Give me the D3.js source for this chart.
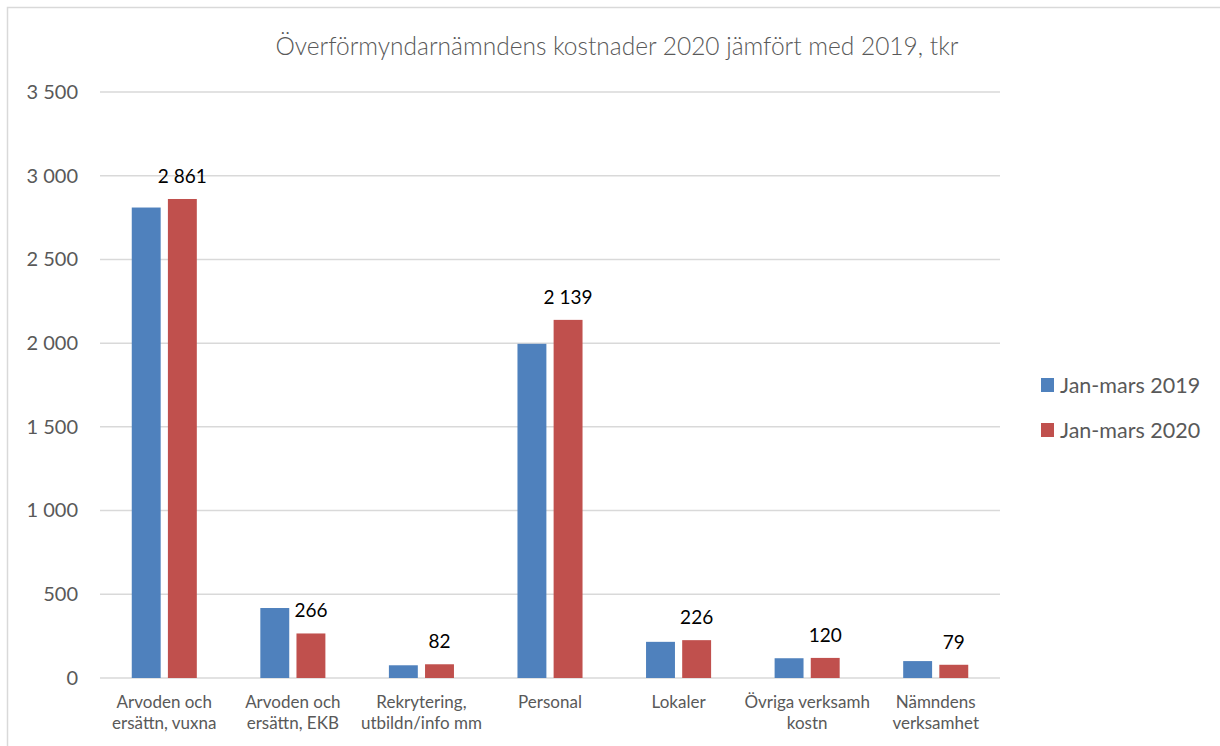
<!DOCTYPE html>
<html>
<head>
<meta charset="utf-8">
<script src="https://cdn.jsdelivr.net/npm/d3@7"></script>
<style>
  html, body { margin: 0; padding: 0; background: #fff; }
  svg { display: block; font-family: Lato, "Open Sans", sans-serif; }
</style>
</head>
<body>
<div id="chart"></div>
<script>
// chart data
const categories = [
  'Arvoden och ersättn, vuxna',
  'Arvoden och ersättn, EKB',
  'Rekrytering, utbildn/info mm',
  'Personal',
  'Lokaler',
  'Övriga verksamh kostn',
  'Nämndens verksamhet'
];
const categoryLines = [
  ['Arvoden och', 'ersättn, vuxna'],
  ['Arvoden och', 'ersättn, EKB'],
  ['Rekrytering,', 'utbildn/info mm'],
  ['Personal'],
  ['Lokaler'],
  ['Övriga verksamh', 'kostn'],
  ['Nämndens', 'verksamhet']
];
const seriesNames = ['Jan-mars 2019', 'Jan-mars 2020'];
const values2019 = [2810, 418, 76, 1996, 216, 118, 101];
const values2020 = [2861, 266, 82, 2139, 226, 120, 79];
const yTicks = [0, 500, 1000, 1500, 2000, 2500, 3000, 3500];
const titleText = 'Överförmyndarnämndens kostnader 2020 jämfört med 2019, tkr';

const colors = ['#4F81BD', '#C0504D'];
const W = 1220, H = 746;
const plot = { left: 100, right: 1000, top: 92, bottom: 678 };

const svg = d3.select('#chart').append('svg')
  .attr('width', W).attr('height', H);

// outer chart frame
svg.append('rect')
  .attr('x', 7.5).attr('y', 7.5)
  .attr('width', W + 20).attr('height', H + 20)
  .attr('fill', '#fff').attr('stroke', '#d9d9d9').attr('stroke-width', 1.5);

const x0 = d3.scaleBand()
  .domain(categories)
  .range([plot.left, plot.right])
  .paddingInner(0.494)
  .paddingOuter(0.247);

const x1 = d3.scaleBand()
  .domain(seriesNames)
  .range([0, x0.bandwidth()])
  .paddingInner(0.2);

const y = d3.scaleLinear()
  .domain([0, 3500])
  .range([plot.bottom, plot.top]);

const fmt = v => d3.format(',')(v).replace(/,/g, ' ');

// gridlines
svg.append('g')
  .selectAll('line')
  .data(yTicks)
  .join('line')
  .attr('x1', plot.left).attr('x2', plot.right)
  .attr('y1', d => y(d)).attr('y2', d => y(d))
  .attr('stroke', '#d9d9d9').attr('stroke-width', 1.5);

// y axis labels
const yAxis = svg.append('g')
  .attr('transform', `translate(${plot.left}, 0)`)
  .call(d3.axisLeft(y).tickValues(yTicks).tickFormat(fmt).tickSize(0).tickPadding(22));
yAxis.select('.domain').remove();
yAxis.selectAll('text')
  .attr('font-size', 20)
  .attr('fill', '#595959')
  .attr('font-family', 'Lato, sans-serif');

// bars
const rows = categories.map((c, i) => ({
  cat: c,
  vals: [
    { s: seriesNames[0], v: values2019[i], k: 0 },
    { s: seriesNames[1], v: values2020[i], k: 1 }
  ]
}));

const groups = svg.append('g')
  .selectAll('g')
  .data(rows)
  .join('g')
  .attr('transform', d => `translate(${x0(d.cat)}, 0)`);

groups.selectAll('rect')
  .data(d => d.vals)
  .join('rect')
  .attr('x', d => x1(d.s))
  .attr('y', d => y(d.v))
  .attr('width', x1.bandwidth())
  .attr('height', d => y(0) - y(d.v))
  .attr('fill', d => colors[d.k]);

// data labels (2020 only)
groups.append('text')
  .attr('x', x1(seriesNames[1]) + x1.bandwidth() / 2)
  .attr('y', d => y(d.vals[1].v) - 16)
  .attr('text-anchor', 'middle')
  .attr('font-size', 19)
  .attr('fill', '#000')
  .text(d => fmt(d.vals[1].v));

// category labels
const catLabels = svg.append('g')
  .selectAll('text')
  .data(categories)
  .join('text')
  .attr('x', d => x0(d) + x0.bandwidth() / 2)
  .attr('y', 708)
  .attr('text-anchor', 'middle')
  .attr('font-size', 17)
  .attr('fill', '#595959');
catLabels.selectAll('tspan')
  .data((d, i) => categoryLines[i])
  .join('tspan')
  .attr('x', function () { return d3.select(this.parentNode).attr('x'); })
  .attr('dy', (d, i) => i === 0 ? 0 : 21)
  .text(d => d);

// title
svg.append('text')
  .attr('x', 617).attr('y', 55)
  .attr('text-anchor', 'middle')
  .attr('font-size', 24.5)
  .attr('font-weight', 300)
  .attr('fill', '#595959')
  .text(titleText);

// legend
const legend = svg.append('g')
  .selectAll('g')
  .data(seriesNames)
  .join('g')
  .attr('transform', (d, i) => `translate(1041, ${385 + i * 45})`);
legend.append('rect')
  .attr('x', 0).attr('y', -7)
  .attr('width', 13).attr('height', 14)
  .attr('fill', (d, i) => colors[i]);
legend.append('text')
  .attr('x', 19).attr('y', 7.5)
  .attr('font-size', 21.5)
  .attr('fill', '#595959')
  .text(d => d);
</script>
</body>
</html>
